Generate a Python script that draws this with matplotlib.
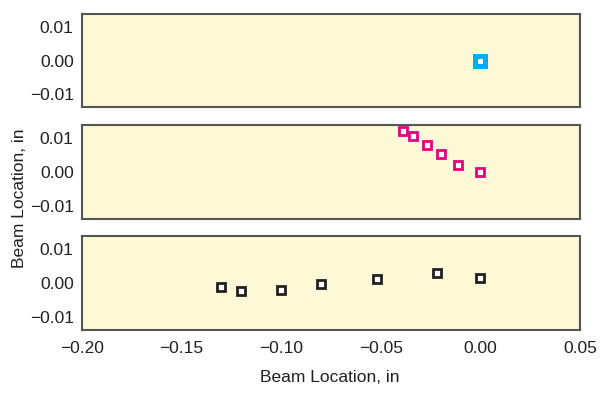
import matplotlib.pyplot as plt

plt.rcParams['font.family'] = ['Liberation Sans', 'DejaVu Sans']

# data
x_top = [0.0]
y_top = [0.0]

x_mid = [-0.039, -0.034, -0.027, -0.020, -0.0115, 0.0]
y_mid = [0.0123, 0.0106, 0.0080, 0.0053, 0.0020, -0.0001]

x_bot = [-0.13, -0.12, -0.10, -0.08, -0.052, -0.022, 0.0]
y_bot = [-0.0012, -0.0024, -0.0021, -0.0003, 0.0012, 0.0030, 0.0015]

xticks = [-0.20, -0.15, -0.10, -0.05, 0.00, 0.05]
yticks = [-0.01, 0.00, 0.01]

bg = '#fdf8d6'
fig = plt.figure(figsize=(6, 3.97), dpi=100)

rects = [[0.1367, 0.7305, 0.83, 0.2342],
         [0.1367, 0.4484, 0.83, 0.2367],
         [0.1367, 0.1688, 0.83, 0.2367]]
series = [(x_top, y_top, '#00aeef', 6.5, 3.6),
          (x_mid, y_mid, '#e6007e', 6.2, 2.0),
          (x_bot, y_bot, '#231f20', 6.2, 2.0)]

axes = []
for r, (xs, ys, c, ms, mew) in zip(rects, series):
    ax = fig.add_axes(r)
    ax.set_facecolor(bg)
    ax.plot(xs, ys, linestyle='none', marker='s', markersize=ms,
            markerfacecolor='white', markeredgecolor=c, markeredgewidth=mew)
    ax.set_xlim(-0.20, 0.05)
    ax.set_ylim(-0.014, 0.014)
    ax.set_yticks(yticks)
    ax.set_yticklabels(['\u22120.01', '0.00', '0.01'])
    ax.set_xticks(xticks)
    ax.tick_params(length=0, labelsize=12.5, pad=6, colors='#231f20')
    for s in ax.spines.values():
        s.set_color('#555555')
        s.set_linewidth(1.5)
    axes.append(ax)

for ax in axes[:2]:
    ax.set_xticklabels([])
axes[2].set_xticklabels(['\u22120.20', '\u22120.15', '\u22120.10', '\u22120.05', '0.00', '0.05'])
axes[2].tick_params(axis='x', pad=8)

fig.text(0.55, 0.048, 'Beam Location, in', ha='center', va='center', fontsize=12.5, color='#231f20')
fig.text(0.032, 0.5, 'Beam Location, in', ha='center', va='center', rotation=90,
         fontsize=12.5, color='#231f20')

fig.savefig('out.png', dpi=100)
